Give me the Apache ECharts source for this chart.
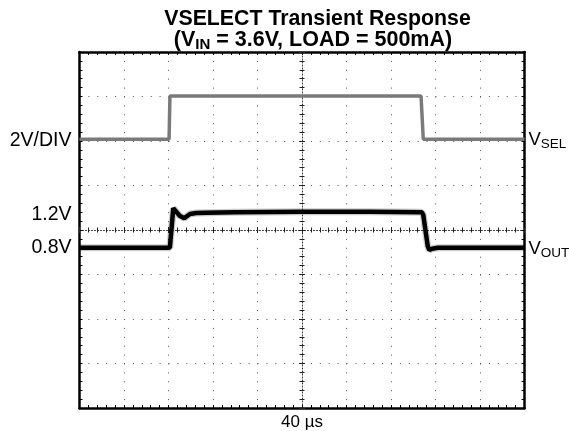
<!DOCTYPE html>
<html><head><meta charset="utf-8">
<script src="https://cdn.jsdelivr.net/npm/echarts@6/dist/echarts.min.js"></script>
<style>html,body{margin:0;padding:0;background:#fff}#c{width:569px;height:431px}</style>
</head><body><div id="c"></div>
<script>
// ---- data read from the scope shot ----
const vselTimeUs = [0, 80.5, 81.3, 307.0, 309.0, 400];
const vselVolts  = [0, 0, 1.94, 1.94, 0, 0];
const voutTimeUs = [0, 40, 81.2, 82.6, 84.3, 86, 90, 94.2, 99.3, 105, 114, 140, 200, 260, 307.6, 309, 313, 314.4, 317, 322, 340, 400];
const voutVolts  = [0.80, 0.80, 0.80, 1.00, 1.244, 1.22, 1.16, 1.133, 1.18, 1.19, 1.194, 1.20, 1.205, 1.205, 1.20, 1.17, 0.82, 0.775, 0.79, 0.80, 0.80, 0.80];
const titleLine1 = 'VSELECT Transient Response';
const timeLabel = '40 µs';
const voltLabels = ['2V/DIV', '1.2V', '0.8V'];
const voltLabelValues = [0, 1.2, 0.8]; // VSEL ground, VOUT levels
// scope settings
const X_MIN = 0, X_MAX = 400, X_DIV = 40;
const Y_MIN = -4, Y_MAX = 4, Y_DIV = 1;
const VSEL_V_PER_DIV = 2, VSEL_GND_DIV = 2.04;
const VOUT_V_PER_DIV = 0.5, VOUT_CENTER_V = 1.0;

const FONT = '"Liberation Sans", Arial, sans-serif';
const vselDiv = v => VSEL_GND_DIV + v / VSEL_V_PER_DIV;
const voutDiv = v => (v - VOUT_CENTER_V) / VOUT_V_PER_DIV;

const chart = echarts.init(document.getElementById('c'), null, {renderer: 'canvas'});
const dotted = {color: '#555', width: 1, type: [1, 7.9]};
const frameLine = {show: true, onZero: false, lineStyle: {color: '#000', width: 2.5}};
const frameTick = {show: true, inside: true, length: 3, lineStyle: {color: '#000', width: 1}};
const frameMinor = {show: true, splitNumber: 5, length: 3, lineStyle: {color: '#000', width: 1}};
const centerLine = {show: true, onZero: true, lineStyle: {color: '#333', width: 1, type: [1, 2]}};

function xAx(extra) {
  return Object.assign({type: 'value', gridIndex: 0, min: X_MIN, max: X_MAX, interval: X_DIV,
    axisLabel: {show: false}, splitLine: {show: false}}, extra);
}
function yAx(extra) {
  return Object.assign({type: 'value', gridIndex: 0, min: Y_MIN, max: Y_MAX, interval: Y_DIV,
    axisLabel: {show: false}, splitLine: {show: false}}, extra);
}

chart.setOption({
  animation: false,
  backgroundColor: '#fff',
  grid: {left: 79.5, top: 52, width: 445, height: 356, outerBoundsMode: 'none', containLabel: false},
  xAxis: [
    xAx({position: 'bottom', axisLine: frameLine, axisTick: frameTick, minorTick: frameMinor,
      splitLine: {show: true, lineStyle: dotted}}),
    xAx({position: 'top', axisLine: frameLine, axisTick: frameTick, minorTick: frameMinor}),
    xAx({position: 'bottom', axisLine: Object.assign({onZeroAxisIndex: 0}, centerLine),
      axisTick: {show: true, inside: true, length: 3, lineStyle: {color: '#222'}},
      minorTick: {show: true, splitNumber: 5, length: 2.5, lineStyle: {color: '#222'}}}),
    xAx({position: 'bottom', axisLine: {show: false, onZero: true, onZeroAxisIndex: 0},
      axisTick: {show: true, inside: false, length: 3, lineStyle: {color: '#222'}},
      minorTick: {show: true, splitNumber: 5, length: 2.5, lineStyle: {color: '#222'}}}),
    // helper axis centred on zero for the vertical centre line
    xAx({min: -X_MAX / 2, max: X_MAX / 2, show: false, position: 'bottom', axisLine: {onZero: false}})
  ],
  yAxis: [
    yAx({position: 'left', axisLine: frameLine, axisTick: frameTick, minorTick: frameMinor,
      splitLine: {show: true, lineStyle: dotted}}),
    yAx({position: 'right', axisLine: frameLine, axisTick: frameTick, minorTick: frameMinor}),
    yAx({position: 'left', axisLine: Object.assign({onZeroAxisIndex: 4}, centerLine),
      axisTick: {show: true, inside: true, length: 3, lineStyle: {color: '#222'}},
      minorTick: {show: true, splitNumber: 5, length: 2.5, lineStyle: {color: '#222'}}}),
    yAx({position: 'left', axisLine: {show: false, onZero: true, onZeroAxisIndex: 4},
      axisTick: {show: true, inside: false, length: 3, lineStyle: {color: '#222'}},
      minorTick: {show: true, splitNumber: 5, length: 2.5, lineStyle: {color: '#222'}}})
  ],
  series: [
    {type: 'line', name: 'VSEL', xAxisIndex: 0, yAxisIndex: 0, showSymbol: false, symbol: 'none',
      data: vselTimeUs.map((t, i) => [t, vselDiv(vselVolts[i])]),
      lineStyle: {color: '#7a7a7a', width: 3.5}, z: 3},
    {type: 'line', name: 'VOUT halo', xAxisIndex: 0, yAxisIndex: 0, showSymbol: false, symbol: 'none',
      data: voutTimeUs.map((t, i) => [t, voutDiv(voutVolts[i])]),
      lineStyle: {color: 'rgba(0,0,0,0.2)', width: 7}, z: 3},
    {type: 'line', name: 'VOUT', xAxisIndex: 0, yAxisIndex: 0, showSymbol: false, symbol: 'none',
      data: voutTimeUs.map((t, i) => [t, voutDiv(voutVolts[i])]),
      lineStyle: {color: '#000', width: 4.5}, z: 4}
  ]
});

const px = (x, y) => chart.convertToPixel({xAxisIndex: 0, yAxisIndex: 0}, [x, y]);
const yGnd = px(0, vselDiv(voltLabelValues[0]))[1];
const y12 = px(0, voutDiv(voltLabelValues[1]))[1];
const y08 = px(0, voutDiv(voltLabelValues[2]))[1];
const left = px(X_MIN, 0)[0], right = px(X_MAX, 0)[0];
const bottom = px(0, Y_MIN)[1];
const midX = px((X_MIN + X_MAX) / 2, 0)[0];

const lab = (text, x, y, align, size) => ({type: 'text', x: x, y: y, z: 10,
  style: {text: text, fill: '#000', fontSize: size, fontFamily: FONT, align: align, verticalAlign: 'middle'}});
const sub = (main, s, x, y) => ({type: 'text', x: x, y: y, z: 10,
  style: {text: '{m|' + main + '}{s|' + s + '}', fill: '#000', fontFamily: FONT, align: 'left', verticalAlign: 'middle',
    rich: {m: {fontSize: 18.5, fontFamily: FONT, lineHeight: 22}, s: {fontSize: 13.5, fontFamily: FONT, padding: [9, 0, 0, 0]}}}});

chart.setOption({
  graphic: [
    {type: 'text', x: 317.5, y: 19, z: 10,
      style: {text: titleLine1, fill: '#000', fontSize: 21.3, fontWeight: 'bold', fontFamily: FONT, align: 'center', verticalAlign: 'middle'}},
    {type: 'text', x: 313, y: 40, z: 10,
      style: {text: '{m|(V}{s|IN}{m| = 3.6V, LOAD = 500mA)}', fill: '#000', fontFamily: FONT, align: 'center', verticalAlign: 'middle',
        rich: {m: {fontSize: 21.5, fontWeight: 'bold', fontFamily: FONT, lineHeight: 24},
               s: {fontSize: 15, fontWeight: 'bold', fontFamily: FONT, padding: [10, 0, 0, 0]}}}},
    lab(voltLabels[0], left - 8, yGnd + 1, 'right', 19.5),
    lab(voltLabels[1], left - 8, y12 + 2, 'right', 19.5),
    lab(voltLabels[2], left - 8, y08, 'right', 19.5),
    lab(timeLabel, midX, bottom + 14, 'center', 17),
    sub('V', 'SEL', right + 4, yGnd + 1),
    sub('V', 'OUT', right + 4, y08 + 1)
  ]
});
</script></body></html>
